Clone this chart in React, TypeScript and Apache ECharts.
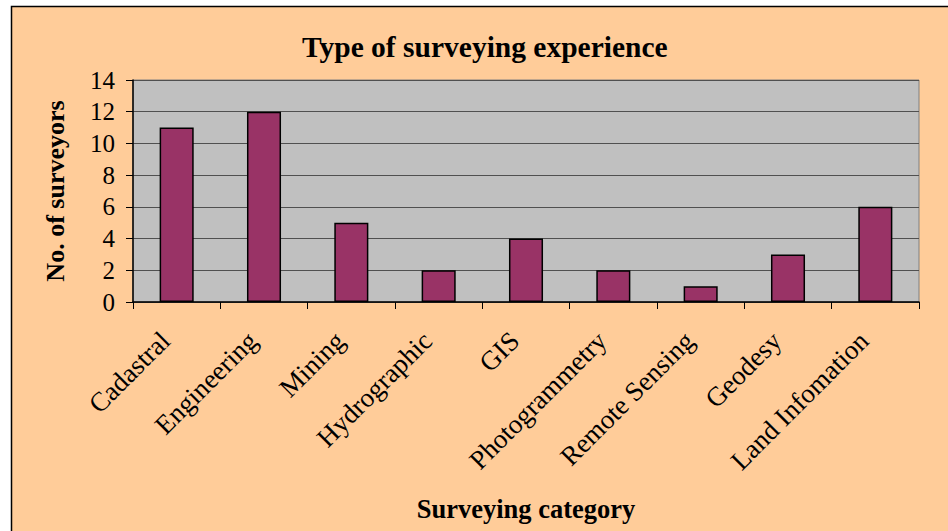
import React, { useEffect, useRef } from "react";
import * as echarts from "echarts";

const categories = [
  "Cadastral",
  "Engineering",
  "Mining",
  "Hydrographic",
  "GIS",
  "Photogrammetry",
  "Remote Sensing",
  "Geodesy",
  "Land Infomation",
];
const surveyors = [11, 12, 5, 2, 4, 2, 1, 3, 6];

const FONT = "'Liberation Serif', 'Times New Roman', serif";

export default function App() {
  const ref = useRef<HTMLDivElement>(null);
  useEffect(() => {
    if (!ref.current) return;
    const chart = echarts.init(ref.current, undefined, { renderer: "svg" });
    chart.setOption({
      animation: false,
      backgroundColor: "#ffffff",
      graphic: [
        {
          type: "rect",
          z: -10,
          silent: true,
          shape: { x: 11.5, y: 6.5, width: 960, height: 540 },
          style: { fill: "#FFCC99", stroke: "#000000", lineWidth: 1.5 },
        },
      ],
      title: {
        text: "Type of surveying experience",
        left: 297,
        top: 27,
        textStyle: {
          fontFamily: FONT,
          fontWeight: "bold",
          fontSize: 29.5,
          color: "#000",
        },
      },
      grid: {
        left: 133,
        top: 80,
        right: 29,
        bottom: 229,
        show: true,
        backgroundColor: "#C0C0C0",
        borderColor: "#808080",
        borderWidth: 1,
      },
      xAxis: {
        type: "category",
        data: categories,
        name: "Surveying category",
        nameLocation: "middle",
        nameGap: 193,
        nameTextStyle: {
          fontFamily: FONT,
          fontWeight: "bold",
          fontSize: 26.5,
          color: "#000",
        },
        axisLine: { show: true, lineStyle: { color: "#000", width: 1.5 } },
        axisTick: { show: true, length: 7, lineStyle: { color: "#000" } },
        axisLabel: {
          interval: 0,
          rotate: 45,
          margin: 23,
          padding: [0, 16, 0, 0],
          fontFamily: FONT,
          fontSize: 27,
          color: "#000",
        },
      },
      yAxis: {
        type: "value",
        min: 0,
        max: 14,
        interval: 2,
        name: "No. of surveyors",
        nameLocation: "middle",
        nameGap: 65,
        nameTextStyle: {
          fontFamily: FONT,
          fontWeight: "bold",
          fontSize: 26,
          color: "#000",
        },
        axisLine: { show: true, lineStyle: { color: "#000", width: 1.5 } },
        axisTick: { show: true, length: 7, lineStyle: { color: "#000" } },
        axisLabel: {
          margin: 18,
          fontFamily: FONT,
          fontSize: 25,
          color: "#000",
        },
        splitLine: { show: true, lineStyle: { color: "#505050", width: 1.2 } },
      },
      series: [
        {
          type: "bar",
          data: surveyors,
          barCategoryGap: "61%",
          itemStyle: {
            color: "#993366",
            borderColor: "#000",
            borderWidth: 1.5,
          },
        },
      ],
    });
    return () => chart.dispose();
  }, []);
  return (
    <div
      ref={ref}
      style={{ position: "fixed", left: 0, top: 0, width: 948, height: 531 }}
    />
  );
}
